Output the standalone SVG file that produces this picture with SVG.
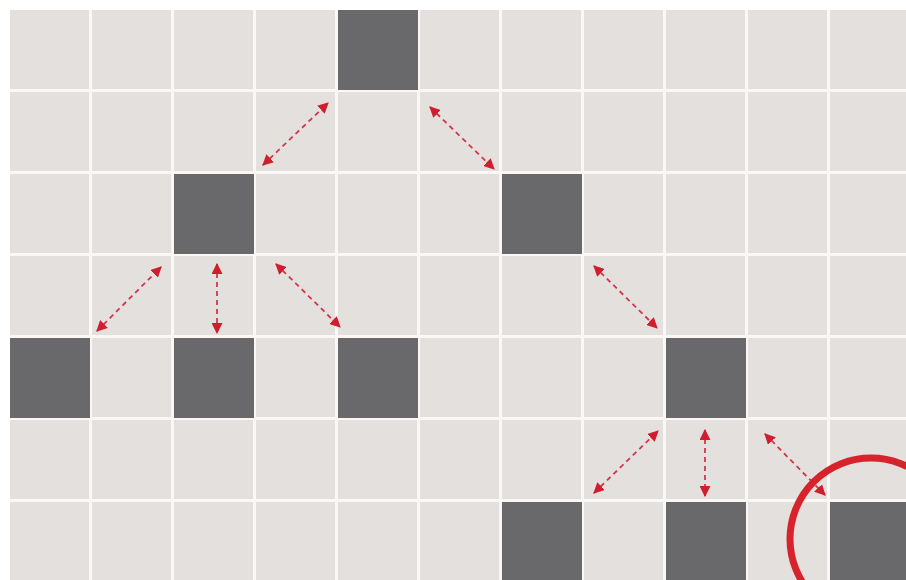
<svg xmlns="http://www.w3.org/2000/svg" width="906" height="580" viewBox="0 0 906 580">
<defs>
<pattern id="grid" x="10" y="10" width="82" height="82" patternUnits="userSpaceOnUse">
<rect x="0" y="0" width="82" height="82" fill="#fbf7f4"/>
<rect x="0" y="0" width="79" height="79" fill="#e4e0de"/>
</pattern>
<marker id="ah" viewBox="0 0 10 10" refX="9" refY="5" markerWidth="11" markerHeight="11" markerUnits="userSpaceOnUse" orient="auto-start-reverse">
<path d="M0,0 L10,5 L0,10 z" fill="#cf1f2e"/>
</marker>
<style>
.dark{fill:#69696b}
.conn{stroke:#d4364a;stroke-width:1.8;stroke-dasharray:5 4;fill:none;marker-start:url(#ah);marker-end:url(#ah)}
</style>
</defs>
<rect width="906" height="580" fill="#ffffff"/>
<rect x="10" y="10" width="896" height="570" fill="url(#grid)"/>
<g id="n1"><rect class="dark" x="338" y="10" width="80" height="80"/></g>
<g id="n2"><rect class="dark" x="174" y="174" width="80" height="80"/></g>
<g id="n3"><rect class="dark" x="502" y="174" width="80" height="80"/></g>
<g id="n4"><rect class="dark" x="10" y="338" width="80" height="80"/></g>
<g id="n5"><rect class="dark" x="174" y="338" width="80" height="80"/></g>
<g id="n6"><rect class="dark" x="338" y="338" width="80" height="80"/></g>
<g id="n7"><rect class="dark" x="666" y="338" width="80" height="80"/></g>
<g id="n8"><rect class="dark" x="502" y="502" width="80" height="80"/></g>
<g id="n9"><rect class="dark" x="666" y="502" width="80" height="80"/></g>
<g id="n10"><rect class="dark" x="830" y="502" width="80" height="80"/></g>
<g id="connectors">
<line class="conn" x1="263" y1="165" x2="328" y2="103"/>
<line class="conn" x1="430" y1="107" x2="494" y2="169"/>
<line class="conn" x1="97" y1="331" x2="161" y2="267"/>
<line class="conn" x1="217" y1="264" x2="217" y2="333"/>
<line class="conn" x1="276" y1="264" x2="340" y2="327"/>
<line class="conn" x1="594" y1="266" x2="657" y2="328"/>
<line class="conn" x1="594" y1="493" x2="658" y2="431"/>
<line class="conn" x1="705" y1="430" x2="705" y2="496"/>
<line class="conn" x1="765" y1="434" x2="825" y2="495"/>
</g>
<circle cx="871" cy="539" r="81" fill="none" stroke="#d7232c" stroke-width="7"/>
</svg>
